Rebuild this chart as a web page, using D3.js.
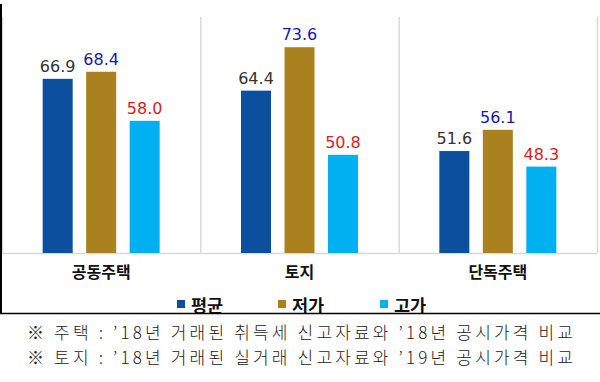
<!DOCTYPE html>
<meta charset="utf-8">
<script src="https://d3js.org/d3.v7.min.js"></script>
<style>
  body { margin: 0; background: #fff; }
  svg { display: block; }
</style>
<body>
<div id="my_dataviz"></div>
<script>

// data
var categories = ["공동주택", "토지", "단독주택"];
var series = ["평균", "저가", "고가"];
var avgValues  = [66.9, 64.4, 51.6];
var lowValues  = [68.4, 73.6, 56.1];
var highValues = [58.0, 50.8, 48.3];
var notes = [
  "※ 주택 : ’18년 거래된 취득세 신고자료와 ’18년 공시가격 비교",
  "※ 토지 : ’18년 거래된 실거래 신고자료와 ’19년 공시가격 비교"
];

var barColor   = {"평균": "#0b4f9e", "저가": "#a9821f", "고가": "#00b0f0"};
var labelColor = {"평균": "#333333", "저가": "#1717b0", "고가": "#d42323"};

var width = 600, height = 382;

var svg = d3.select("#my_dataviz")
  .append("svg")
    .attr("width", width)
    .attr("height", height);

// build rows
var rows = categories.map(function(c, i) {
  return {cat: c, values: [
    {key: "평균", v: avgValues[i]},
    {key: "저가", v: lowValues[i]},
    {key: "고가", v: highValues[i]}
  ]};
});

// scales
var x = d3.scaleBand()
  .domain(categories)
  .range([2, 597])
  .padding(0);

var xInner = d3.scaleBand()
  .domain(series)
  .range([0, x.bandwidth()])
  .paddingInner(0.31)
  .paddingOuter(0.935);

var y = d3.scaleLinear()
  .domain([30, 80])
  .range([253, 17]);

// category separators (gray)
var seps = categories.map(function(c) { return x(c); }).concat([x.range()[1]]);
svg.append("g")
  .selectAll("line")
  .data(seps)
  .enter()
  .append("line")
    .attr("x1", function(d) { return d + 0.5; })
    .attr("x2", function(d) { return d + 0.5; })
    .attr("y1", y(80))
    .attr("y2", y(30))
    .attr("stroke", "#d9d9d9")
    .attr("stroke-width", 1.5);

// baseline
svg.append("line")
  .attr("x1", 2).attr("x2", 597)
  .attr("y1", y(30) + 0.5).attr("y2", y(30) + 0.5)
  .attr("stroke", "#d9d9d9")
  .attr("stroke-width", 1.5);

// bars
var groups = svg.append("g")
  .selectAll("g")
  .data(rows)
  .enter()
  .append("g")
    .attr("transform", function(d) { return "translate(" + x(d.cat) + ",0)"; });

groups.selectAll("rect")
  .data(function(d) { return d.values; })
  .enter()
  .append("rect")
    .attr("x", function(d) { return xInner(d.key); })
    .attr("y", function(d) { return y(d.v); })
    .attr("width", xInner.bandwidth())
    .attr("height", function(d) { return y(30) - y(d.v); })
    .attr("fill", function(d) { return barColor[d.key]; });

groups.selectAll("text")
  .data(function(d) { return d.values; })
  .enter()
  .append("text")
    .attr("x", function(d) { return xInner(d.key) + xInner.bandwidth() / 2; })
    .attr("y", function(d) { return y(d.v) - 7; })
    .attr("text-anchor", "middle")
    .style("font-family", "'DejaVu Sans', Verdana, sans-serif")
    .style("font-size", "16px")
    .style("fill", function(d) { return labelColor[d.key]; })
    .text(function(d) { return d.v.toFixed(1); });

// category labels
svg.append("g")
  .selectAll("text")
  .data(categories)
  .enter()
  .append("text")
    .attr("x", function(d) { return x(d) + x.bandwidth() / 2; })
    .attr("y", 278)
    .attr("text-anchor", "middle")
    .style("font-family", "'Noto Sans CJK KR', sans-serif")
    .style("font-weight", "bold")
    .style("font-size", "16px")
    .style("fill", "#111")
    .text(function(d) { return d; });

// legend
var legendX = {"평균": 177, "저가": 278, "고가": 380};
var legend = svg.append("g")
  .selectAll("g")
  .data(series)
  .enter()
  .append("g")
    .attr("transform", function(d) { return "translate(" + legendX[d] + ",300)"; });
legend.append("rect")
  .attr("width", 8).attr("height", 8)
  .attr("fill", function(d) { return barColor[d]; });
legend.append("text")
  .attr("x", 14)
  .attr("y", 12)
  .style("font-family", "'Noto Sans CJK KR', sans-serif")
  .style("font-weight", "bold")
  .style("font-size", "17.5px")
  .style("fill", "#111")
  .text(function(d) { return d; });

// white strip under the box to clip legend text
svg.append("rect")
  .attr("x", 0).attr("y", 314)
  .attr("width", width).attr("height", height - 314)
  .attr("fill", "#fff");

// box: left and bottom black lines
svg.append("line")
  .attr("x1", 1).attr("x2", 1)
  .attr("y1", 4).attr("y2", 314)
  .attr("stroke", "#000").attr("stroke-width", 2);
svg.append("line")
  .attr("x1", 0).attr("x2", width)
  .attr("y1", 313.5).attr("y2", 313.5)
  .attr("stroke", "#000").attr("stroke-width", 1.5);

// footnotes
svg.append("g")
  .selectAll("text")
  .data(notes)
  .enter()
  .append("text")
    .attr("x", 27)
    .attr("y", function(d, i) { return 339 + i * 24.5; })
    .attr("textLength", 546)
    .attr("lengthAdjust", "spacing")
    .style("font-family", "'Noto Sans CJK KR', sans-serif")
    .style("font-weight", "300")
    .style("font-size", "17px")
    .style("fill", "#222")
    .text(function(d) { return d; });

</script>
</body>
